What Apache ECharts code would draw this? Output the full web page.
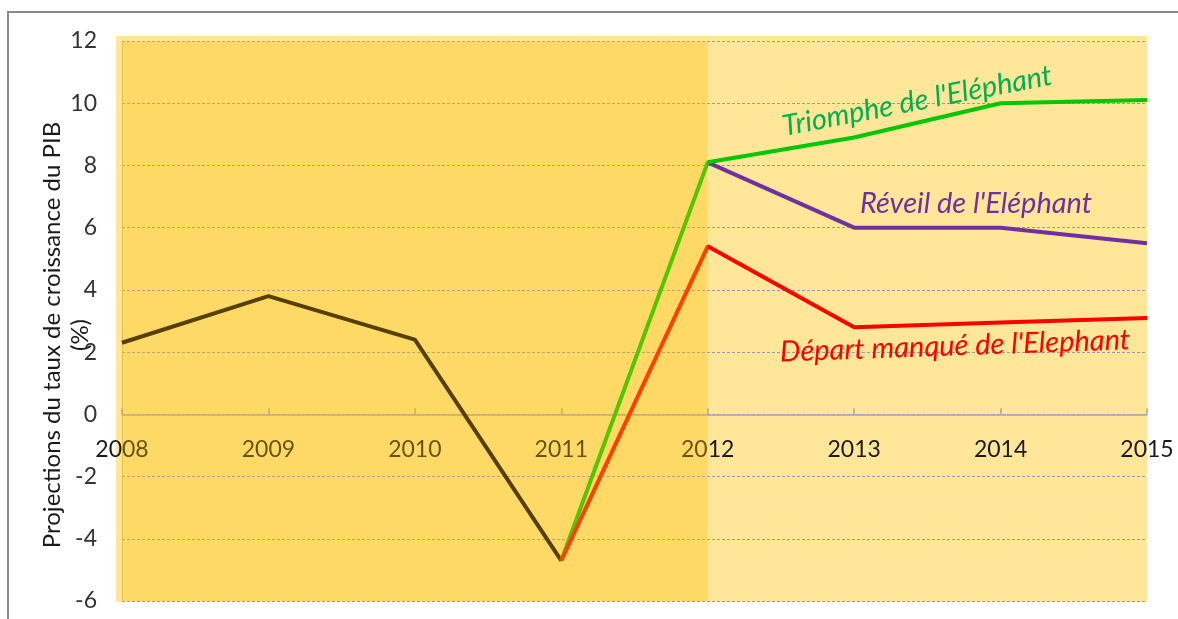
<!DOCTYPE html>
<html>
<head>
<meta charset="utf-8">
<script src="https://cdn.jsdelivr.net/npm/echarts@6/dist/echarts.min.js"></script>
<style>
    html, body { margin: 0; padding: 0; background: #ffffff; }
    #main { width: 1178px; height: 619px; }
</style>
</head>
<body>
<div id="main"></div>
<script type="text/javascript">
    // years on the x axis
    var years = ['2008', '2009', '2010', '2011', '2012', '2013', '2014', '2015'];
    // observed growth up to 2011
    var historique = [2.3, 3.8, 2.4, -4.7, null, null, null, null];
    // the three scenarios
    var triomphe = [null, null, null, -4.7, 8.1, 8.9, 10.0, 10.1];
    var reveil = [null, null, null, null, 8.1, 6.0, 6.0, 5.5];
    var departManque = [null, null, null, -4.7, 5.4, 2.8, 2.95, 3.1];
    // y axis
    var yMin = -6;
    var yMax = 12;
    var yStep = 2;

    var font = 'Lato';
    var gridTop = 41;
    var gridBottom = 18;
    var gridHeight = 619 - gridTop - gridBottom;
    // the category axis sits on the zero line
    var xAxisOffset = -(0 - yMin) / (yMax - yMin) * gridHeight;

    var chart = echarts.init(document.getElementById('main'), null, { renderer: 'canvas' });

    var option = {
        backgroundColor: '#ffffff',
        animation: false,
        grid: {
            left: 122,
            right: 31,
            top: gridTop,
            bottom: gridBottom,
            containLabel: false,
            outerBoundsMode: 'none'
        },
        graphic: [
            {
                // frame round the chart
                type: 'rect',
                shape: { x: 8, y: 12, width: 1200, height: 700 },
                style: { fill: null, stroke: '#8a8a8a', lineWidth: 2 },
                z: -20
            },
            {
                // plot area background
                type: 'rect',
                shape: { x: 116, y: 36, width: 1031, height: 566 },
                style: { fill: '#FFE699' },
                z: -10
            },
            {
                type: 'text',
                x: 917, y: 101,
                rotation: 0.19,
                style: {
                    text: "Triomphe de l'Eléphant",
                    fill: '#00B050',
                    font: 'italic 29px ' + font,
                    align: 'center',
                    verticalAlign: 'middle'
                },
                z: 20
            },
            {
                type: 'text',
                x: 976, y: 204,
                style: {
                    text: "Réveil de l'Eléphant",
                    fill: '#7030A0',
                    font: 'italic 29px ' + font,
                    align: 'center',
                    verticalAlign: 'middle'
                },
                z: 20
            },
            {
                type: 'text',
                x: 955, y: 346,
                rotation: 0.035,
                style: {
                    text: "Départ manqué de l'Elephant",
                    fill: '#FF0000',
                    font: 'italic 29px ' + font,
                    align: 'center',
                    verticalAlign: 'middle'
                },
                z: 20
            }
        ],
        xAxis: {
            type: 'category',
            data: years,
            boundaryGap: false,
            position: 'bottom',
            offset: xAxisOffset,
            axisLine: { onZero: false, lineStyle: { color: '#A6A6A6', width: 1.5 } },
            axisTick: { show: true, inside: true, length: 6, lineStyle: { color: '#A6A6A6', width: 1.5 } },
            axisLabel: { color: '#1a1a1a', fontFamily: font, fontSize: 23, margin: 24 },
            splitLine: { show: false }
        },
        yAxis: {
            type: 'value',
            min: yMin,
            max: yMax,
            interval: yStep,
            name: "Projections du taux de croissance du PIB\n(%)",
            nameLocation: 'middle',
            nameRotate: 90,
            nameGap: 28,
            nameMoveOverlap: false,
            nameTextStyle: {
                color: '#1a1a1a',
                fontFamily: font,
                fontSize: 24,
                lineHeight: 28,
                padding: [0, 28, 0, 0]
            },
            axisLine: { show: true, lineStyle: { color: '#D8C27A', width: 1 } },
            axisTick: { show: false },
            axisLabel: { color: '#333333', fontFamily: font, fontSize: 23, margin: 25 },
            splitLine: { show: true, lineStyle: { color: '#9a9a9a', type: [3, 2], width: 1 } }
        },
        series: [
            {
                name: 'Historique',
                type: 'line',
                data: historique,
                symbol: 'none',
                lineStyle: { color: '#000000', width: 4 },
                z: 3
            },
            {
                name: "Réveil de l'Eléphant",
                type: 'line',
                data: reveil,
                symbol: 'none',
                lineStyle: { color: '#7030A0', width: 4 },
                z: 3
            },
            {
                name: "Triomphe de l'Eléphant",
                type: 'line',
                data: triomphe,
                symbol: 'none',
                lineStyle: { color: '#00C800', width: 4 },
                z: 4
            },
            {
                name: "Départ manqué de l'Elephant",
                type: 'line',
                data: departManque,
                symbol: 'none',
                lineStyle: { color: '#FF0000', width: 4 },
                z: 5,
                // darker band over the past years, drawn on top of everything
                markArea: {
                    silent: true,
                    z: 10,
                    itemStyle: { color: 'rgba(255,191,0,0.333)' },
                    label: { show: false },
                    data: [[{ xAxis: years[0] }, { xAxis: years[4] }]]
                }
            }
        ]
    };

    chart.setOption(option);
</script>
</body>
</html>
